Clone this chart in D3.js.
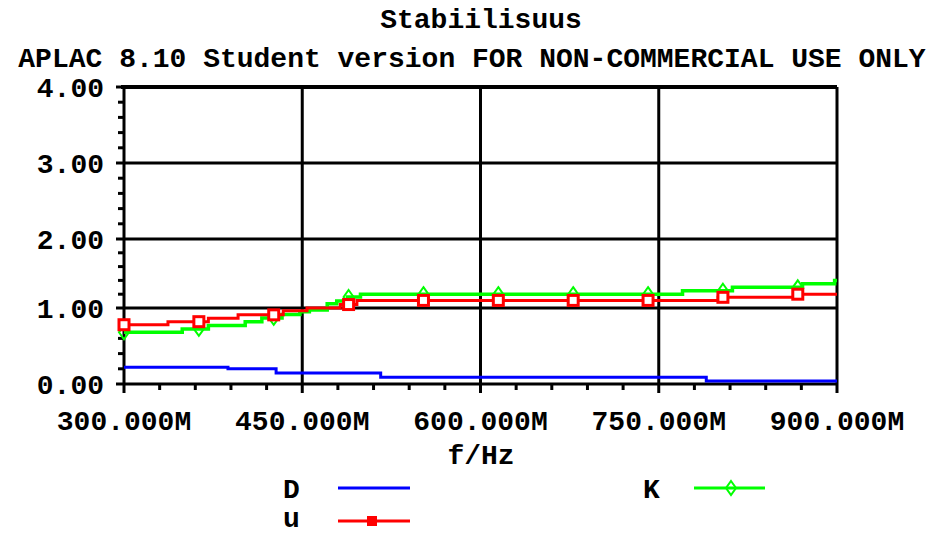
<!DOCTYPE html>
<html>
<head>
<meta charset="utf-8">
<script src="https://cdn.jsdelivr.net/npm/d3@7"></script>
<style>
  html, body { margin: 0; padding: 0; background: #fff; }
  svg { display: block; }
  text { font-family: "Liberation Mono", "DejaVu Sans Mono", monospace; font-weight: bold; fill: #000; }
</style>
</head>
<body>
<svg id="chart" width="946" height="535"></svg>
<script>
// Stability factors vs. frequency (MHz), sampled as stair steps
const dFreq = [300, 387.5, 428, 516, 790, 900];
const dVal  = [0.22, 0.20, 0.145, 0.09, 0.04, 0.04];

const uFreq = [300, 337, 371, 396, 434, 454, 482, 496, 800, 865, 900];
const uVal  = [0.78, 0.82, 0.865, 0.91, 0.965, 1.00, 1.05, 1.11, 1.155, 1.20, 1.20];

const kFreq = [300, 349, 371, 402, 416, 433, 448, 456, 471, 479, 488, 499, 770, 812, 871, 898, 900];
const kVal  = [0.68, 0.725, 0.77, 0.82, 0.87, 0.915, 0.95, 0.975, 1.06, 1.10, 1.16, 1.20, 1.25, 1.30, 1.35, 1.40, 1.40];

// Marker positions along the curves
const markerFreq = [300, 363, 426, 489, 552, 615, 678, 741, 804, 867];

const xTicks = [300, 450, 600, 750, 900];
const xTickLabels = ["300.000M", "450.000M", "600.000M", "750.000M", "900.000M"];
const yTicks = [0, 1, 2, 3, 4];
const yTickLabels = ["0.00", "1.00", "2.00", "3.00", "4.00"];

const titleText = "Stabiilisuus";
const subtitleText = "APLAC 8.10 Student version FOR NON-COMMERCIAL USE ONLY";
const xAxisTitle = "f/Hz";

const svg = d3.select("#chart");
const x = d3.scaleLinear().domain([300, 900]).range([124, 837]);
const y = d3.scaleLinear().domain([0, 1, 2, 3, 4]).range([384, 308, 239, 163, 87]);

const FS = 28;

// Titles
svg.append("text").attr("x", 481).attr("y", 28).attr("text-anchor", "middle")
  .attr("font-size", FS).text(titleText);
svg.append("text").attr("x", 472).attr("y", 67).attr("text-anchor", "middle")
  .attr("font-size", FS).text(subtitleText);

// Grid
const grid = svg.append("g").attr("stroke", "#000").attr("stroke-width", 3);
grid.selectAll("line.gx").data(xTicks).join("line")
  .attr("x1", d => x(d)).attr("x2", d => x(d)).attr("y1", y(4)).attr("y2", y(0));
grid.selectAll("line.gy").data(yTicks).join("line")
  .attr("x1", x(300)).attr("x2", x(900)).attr("y1", d => y(d)).attr("y2", d => y(d));
// Thicker top edge
svg.append("line").attr("x1", x(300) - 3).attr("x2", x(900)).attr("y1", y(4)).attr("y2", y(4))
  .attr("stroke", "#000").attr("stroke-width", 4);

// Minor ticks
const minorY = d3.range(0, 4.0001, 0.2).filter(v => Math.abs(v - Math.round(v)) > 1e-6);
svg.append("g").selectAll("line").data(minorY).join("line")
  .attr("x1", x(300) - 6).attr("x2", x(300)).attr("y1", d => y(d)).attr("y2", d => y(d))
  .attr("stroke", "#000").attr("stroke-width", 3);
const minorX = d3.range(300, 900.001, 30).filter(v => v % 150 !== 0);
svg.append("g").selectAll("line").data(minorX).join("line")
  .attr("x1", d => x(d)).attr("x2", d => x(d)).attr("y1", y(0)).attr("y2", y(0) + 6)
  .attr("stroke", "#000").attr("stroke-width", 3);
// Major tick stubs outside the frame
svg.append("g").selectAll("line").data(yTicks).join("line")
  .attr("x1", x(300) - 8).attr("x2", x(300)).attr("y1", d => y(d)).attr("y2", d => y(d))
  .attr("stroke", "#000").attr("stroke-width", 3);
svg.append("g").selectAll("line").data(xTicks).join("line")
  .attr("x1", d => x(d)).attr("x2", d => x(d)).attr("y1", y(0)).attr("y2", y(0) + 9)
  .attr("stroke", "#000").attr("stroke-width", 3);

// Tick labels
svg.append("g").selectAll("text").data(yTicks).join("text")
  .attr("x", 104).attr("y", d => y(d) + 10).attr("text-anchor", "end")
  .attr("font-size", FS).text((d, i) => yTickLabels[i]);
svg.append("g").selectAll("text").data(xTicks).join("text")
  .attr("x", d => x(d)).attr("y", 430).attr("text-anchor", "middle")
  .attr("font-size", FS).text((d, i) => xTickLabels[i]);
svg.append("text").attr("x", 481).attr("y", 464).attr("text-anchor", "middle")
  .attr("font-size", FS).text(xAxisTitle);

// Curves
const line = d3.line().x(d => x(d[0])).y(d => y(d[1])).curve(d3.curveStepAfter);
const series = [
  { f: dFreq, v: dVal, color: "#0000ff", width: 3 },
  { f: kFreq, v: kVal, color: "#00ff00", width: 3.5 },
  { f: uFreq, v: uVal, color: "#ff0000", width: 3 }
];
series.forEach(s => {
  svg.append("path").datum(s.f.map((f, i) => [f, s.v[i]]))
    .attr("d", line).attr("fill", "none")
    .attr("stroke", s.color).attr("stroke-width", s.width);
});

function stepValue(fs, vs, f) {
  const i = Math.max(0, d3.bisectRight(fs, f) - 1);
  return vs[i];
}

// K markers: open diamonds
const diamond = (cx, cy) => `M${cx},${cy - 7}L${cx + 5},${cy}L${cx},${cy + 7}L${cx - 5},${cy}Z`;
svg.append("g").selectAll("path").data(markerFreq).join("path")
  .attr("d", f => diamond(x(f), y(stepValue(kFreq, kVal, f))))
  .attr("fill", "none").attr("stroke", "#00ff00").attr("stroke-width", 2);

// u markers: open squares
svg.append("g").selectAll("rect").data(markerFreq).join("rect")
  .attr("x", f => x(f) - 5).attr("y", f => y(stepValue(uFreq, uVal, f)) - 5)
  .attr("width", 10).attr("height", 10)
  .attr("fill", "#fff").attr("stroke", "#ff0000").attr("stroke-width", 3);

// Legend
const legend = svg.append("g");
legend.append("text").attr("x", 283).attr("y", 498).attr("font-size", FS).text("D");
legend.append("line").attr("x1", 338).attr("x2", 410).attr("y1", 488).attr("y2", 488)
  .attr("stroke", "#0000ff").attr("stroke-width", 3);
legend.append("text").attr("x", 283).attr("y", 527).attr("font-size", FS).text("u");
legend.append("line").attr("x1", 338).attr("x2", 410).attr("y1", 521).attr("y2", 521)
  .attr("stroke", "#ff0000").attr("stroke-width", 3);
legend.append("rect").attr("x", 367).attr("y", 516).attr("width", 10).attr("height", 10)
  .attr("fill", "#ff0000");
legend.append("text").attr("x", 643).attr("y", 498).attr("font-size", FS).text("K");
legend.append("line").attr("x1", 694).attr("x2", 765).attr("y1", 488).attr("y2", 488)
  .attr("stroke", "#00ff00").attr("stroke-width", 3);
legend.append("path").attr("d", diamond(731, 488))
  .attr("fill", "none").attr("stroke", "#00ff00").attr("stroke-width", 2);
</script>
</body>
</html>
